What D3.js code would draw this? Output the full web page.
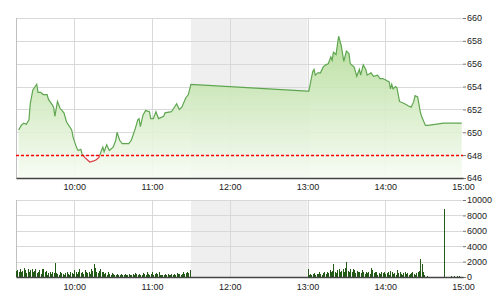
<!DOCTYPE html>
<html>
<head>
<meta charset="utf-8">
<script src="https://cdn.jsdelivr.net/npm/d3@7"></script>
<style>
body { margin: 0; background: #fff; }
text { font-family: "Liberation Sans", Arial, sans-serif; font-size: 9px; fill: #222; }
</style>
</head>
<body>
<script>
// Data

var priceTimes = ["09:17","09:19","09:21","09:23","09:25","09:26","09:28","09:31","09:32","09:34",
    "09:36","09:39","09:40","09:43","09:44","09:45","09:47","09:49","09:52","09:54",
    "09:58","09:59","10:01","10:02","10:03","10:05","10:06","10:08","10:10","10:12",
    "10:15","10:17","10:19","10:21","10:22","10:23","10:25","10:27","10:30","10:32",
    "10:33","10:35","10:37","10:42","10:44","10:47","10:49","10:50","10:51","10:53",
    "10:55","10:58","10:59","11:01","11:03","11:05","11:09","11:10","11:15","11:19",
    "11:21","11:23","11:26","11:28","11:30","13:00","13:01","13:04","13:05","13:06",
    "13:08","13:10","13:12","13:14","13:16","13:18","13:19","13:20","13:22","13:24",
    "13:26","13:27","13:28","13:30","13:32","13:33","13:36","13:38","13:40","13:41",
    "13:43","13:45","13:46","13:49","13:51","13:54","13:56","13:58","14:00","14:03",
    "14:04","14:05","14:06","14:08","14:09","14:11","14:15","14:18","14:20","14:22",
    "14:23","14:25","14:27","14:28","14:31","14:33","14:45","14:59"];
var priceValues = [650.2,650.6,650.8,650.7,651.1,652.5,653.7,654.2,653.5,653.5,
    653.3,653.3,652.9,652.4,652.2,651.4,652.7,652.1,651.7,650.9,
    650.2,649.6,648.9,648.6,648.4,648.5,648.1,647.8,647.6,647.4,
    647.5,647.6,647.8,648.4,648.7,648.3,648.9,648.4,648.7,649.3,
    650.0,649.3,649.0,649.0,649.3,650.3,651.1,651.2,650.5,651.5,
    651.9,651.8,651.2,651.2,651.8,651.2,651.4,651.7,651.8,652.5,
    652.0,652.2,653.0,653.3,654.2,653.6,653.6,655.3,655.5,655.0,
    655.2,655.2,655.7,655.9,656.0,656.6,656.3,657.0,656.8,658.4,
    657.6,656.9,656.2,657.1,656.9,656.0,655.7,654.9,655.5,655.0,
    655.9,655.5,655.0,655.2,654.9,655.0,654.7,654.7,654.6,654.4,
    653.8,654.2,653.8,654.0,653.9,652.7,652.5,652.3,652.2,652.7,
    653.2,653.1,651.8,651.4,650.6,650.6,650.8,650.8];

var referencePrice = 648;

// one value per minute from 09:15
var morningVolumes = [800,900,700,1000,600,800,1200,900,500,1100,700,900,1000,600,800,
    1100,500,700,900,400,1000,1100,600,800,300,500,700,400,600,500,
    1800,500,400,300,600,500,400,300,500,700,400,300,600,500,400,
    900,700,400,600,1000,500,700,400,900,600,500,700,400,1100,800,
    1700,1200,700,500,800,1000,600,700,400,500,300,600,400,300,500,
    400,300,200,400,300,250,400,300,200,350,300,250,400,300,200,
    400,300,500,350,300,400,250,300,500,400,300,600,350,300,400,
    700,300,400,500,350,600,300,250,300,200,350,300,400,250,300,
    350,300,400,300,500,350,400,300,450,600,400,500,700,500,900];

// one value per minute from 13:00
var afternoonVolumes = [1050,300,400,250,350,500,300,400,350,600,400,300,500,650,400,
    700,500,900,600,800,1650,700,500,900,1100,600,800,1000,700,1200,
    1900,800,600,1000,700,1100,900,500,800,600,700,500,900,600,400,
    600,500,700,400,1200,900,500,700,600,300,500,400,700,500,600,
    400,500,600,300,800,600,400,500,300,900,500,700,400,300,500,
    600,400,500,300,400,500,600,400,300,500,600,800,2300,1700,600,
    200,0,150];

var closeTimes = ["14:45","14:51","14:53","14:55","14:57"];
var closeVolumes = [8800,100,100,100,100];

var timeTicks = ["10:00","11:00","12:00","13:00","14:00","15:00"];
var priceTicks = [646,648,650,652,654,656,658,660];
var volumeTicks = [0,2000,4000,6000,8000,10000];
var breakStart = "11:30", breakEnd = "13:00";

// Scales and layout

var parseTime = d3.timeParse("%H:%M");
var width = 501, height = 300;
var left = 16, right = 463;

var x = d3.scaleTime()
    .domain([parseTime("09:15"), parseTime("15:00")])
    .range([left, right]);
var yPrice = d3.scaleLinear().domain([646, 660]).range([178, 18]);
var yVol = d3.scaleLinear().domain([0, 10000]).range([277, 200]);

var svg = d3.select("body").append("svg")
    .attr("width", width)
    .attr("height", height);

var prices = priceTimes.map(function(t, i) {
    return {t: parseTime(t), v: priceValues[i]};
});

var volumes = [];
var m0 = parseTime("09:15"), a0 = parseTime("13:00");
morningVolumes.forEach(function(v, i) {
    volumes.push({t: d3.timeMinute.offset(m0, i), v: v});
});
afternoonVolumes.forEach(function(v, i) {
    volumes.push({t: d3.timeMinute.offset(a0, i), v: v});
});
closeTimes.forEach(function(t, i) {
    volumes.push({t: parseTime(t), v: closeVolumes[i]});
});

function panel(y, ticks, fmt) {
    var g = svg.append("g");
    var r = y.range();
    // lunch break shading
    g.append("rect")
        .attr("x", x(parseTime(breakStart)))
        .attr("y", r[1])
        .attr("width", x(parseTime(breakEnd)) - x(parseTime(breakStart)))
        .attr("height", r[0] - r[1])
        .attr("fill", "#efefef");
    // grid
    g.selectAll(".hgrid").data(ticks).enter().append("line")
        .attr("x1", left).attr("x2", right)
        .attr("y1", function(d) { return Math.round(y(d)) + 0.5; })
        .attr("y2", function(d) { return Math.round(y(d)) + 0.5; })
        .attr("stroke", "#d9d9d9");
    g.selectAll(".vgrid").data(timeTicks.slice(0, 5)).enter().append("line")
        .attr("x1", function(d) { return Math.round(x(parseTime(d))) + 0.5; })
        .attr("x2", function(d) { return Math.round(x(parseTime(d))) + 0.5; })
        .attr("y1", r[1]).attr("y2", r[0])
        .attr("stroke", "#d9d9d9");
    g.append("line")
        .attr("x1", left + 0.5).attr("x2", left + 0.5)
        .attr("y1", r[1]).attr("y2", r[0])
        .attr("stroke", "#c0c0c0");
    // right axis
    var ax = svg.append("g")
        .attr("transform", "translate(" + right + ",0)")
        .call(d3.axisRight(y).tickValues(ticks).tickSize(3).tickPadding(1).tickFormat(fmt));
    ax.select(".domain").remove();
    ax.selectAll(".tick line").attr("stroke", "#777");
    ax.selectAll("text").style("fill", "#222");
    return g;
}

// Top panel: price
panel(yPrice, priceTicks, d3.format("d"));

var grad = svg.append("defs").append("linearGradient")
    .attr("id", "fillGrad")
    .attr("gradientUnits", "userSpaceOnUse")
    .attr("x1", 0).attr("x2", 0).attr("y1", yPrice(658)).attr("y2", yPrice(646));
grad.append("stop").attr("offset", "0%").attr("stop-color", "#b4dc98");
grad.append("stop").attr("offset", "100%").attr("stop-color", "#f7fcf4");

svg.append("path")
    .datum(prices)
    .attr("fill", "url(#fillGrad)")
    .attr("fill-opacity", 0.9)
    .attr("d", d3.area()
        .x(function(d) { return x(d.t); })
        .y0(yPrice(646))
        .y1(function(d) { return yPrice(d.v); }));

var defs = svg.select("defs");
defs.append("clipPath").attr("id", "above").append("rect")
    .attr("x", 0).attr("y", 0).attr("width", width).attr("height", yPrice(referencePrice));
defs.append("clipPath").attr("id", "below").append("rect")
    .attr("x", 0).attr("y", yPrice(referencePrice)).attr("width", width).attr("height", 40);

var line = d3.line()
    .x(function(d) { return x(d.t); })
    .y(function(d) { return yPrice(d.v); });

svg.append("path").datum(prices)
    .attr("fill", "none").attr("stroke", "#5fa650").attr("stroke-width", 1.2)
    .attr("clip-path", "url(#above)")
    .attr("d", line);
svg.append("path").datum(prices)
    .attr("fill", "none").attr("stroke", "#d84040").attr("stroke-width", 1.2)
    .attr("clip-path", "url(#below)")
    .attr("d", line);

var refY = Math.round(yPrice(referencePrice)) + 0.5;
svg.append("line")
    .attr("x1", left).attr("x2", right)
    .attr("y1", refY).attr("y2", refY)
    .attr("stroke", "#ff0000").attr("stroke-width", 1.3)
    .attr("stroke-dasharray", "3,2");

// x axis of top panel
var xa1 = svg.append("g")
    .attr("transform", "translate(0," + yPrice(646) + ")")
    .call(d3.axisBottom(x).tickValues(timeTicks.map(parseTime)).tickSize(0).tickPadding(6)
        .tickFormat(d3.timeFormat("%H:%M")));
xa1.select(".domain").attr("stroke", "#444").attr("stroke-width", 1.5);

// Bottom panel: volume
panel(yVol, volumeTicks, d3.format("d"));

svg.selectAll(".bar")
    .data(volumes)
    .enter().append("rect")
    .attr("class", "bar")
    .attr("x", function(d) { return Math.round(x(d.t)); })
    .attr("y", function(d) { return yVol(d.v); })
    .attr("width", 1)
    .attr("height", function(d) { return yVol(0) - yVol(d.v); })
    .attr("fill", "#235a18")
    .attr("shape-rendering", "crispEdges");

var xa2 = svg.append("g")
    .attr("transform", "translate(0," + yVol(0) + ")")
    .call(d3.axisBottom(x).tickValues(timeTicks.map(parseTime)).tickSize(0).tickPadding(7)
        .tickFormat(d3.timeFormat("%H:%M")));
xa2.select(".domain").attr("stroke", "#444").attr("stroke-width", 1.5);
</script>
</body>
</html>
